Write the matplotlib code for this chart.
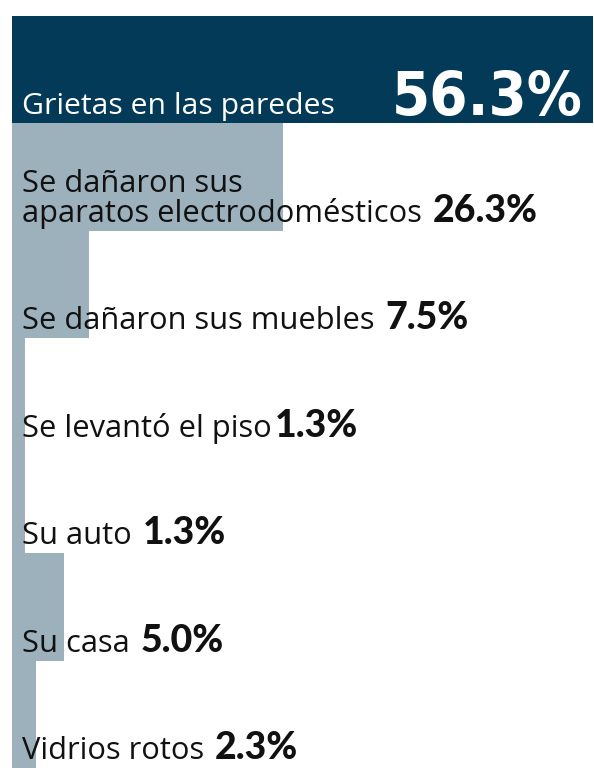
import matplotlib
matplotlib.use("Agg")
import matplotlib.pyplot as plt
from matplotlib.font_manager import fontManager, FontProperties

# datos
categorias = ["Grietas en las paredes",
              "Se dañaron sus\naparatos electrodomésticos",
              "Se dañaron sus muebles",
              "Se levantó el piso",
              "Su auto",
              "Su casa",
              "Vidrios rotos"]
valores = [56.3, 26.3, 7.5, 1.3, 1.3, 5.0, 2.3]
etiquetas_valor = ["56.3%", "26.3%", "7.5%", "1.3%", "1.3%", "5.0%", "2.3%"]

AZUL = "#033a57"
GRIS = "#9db1bd"
TEXTO = "#111111"

nombres = {f.name for f in fontManager.ttflist}
fuente_label = "Open Sans" if "Open Sans" in nombres else "DejaVu Sans"
fuente_valor = "Lato" if "Lato" in nombres else "DejaVu Sans"

# busca una fuente estrecha en negrita para el numero grande
fuente_grande = None
for f in fontManager.ttflist:
    estrecha = ("Condensed" in f.name or "Narrow" in f.name
                or str(f.stretch) in ("condensed", "semi-condensed", "extra-condensed", "ultra-condensed")
                or (isinstance(f.stretch, int) and f.stretch < 500))
    peso = f.weight if isinstance(f.weight, int) else (700 if "bold" in str(f.weight) else 400)
    if estrecha and peso >= 600:
        fuente_grande = FontProperties(fname=f.fname)
        break
if fuente_grande is None:
    fuente_grande = FontProperties(family="DejaVu Sans", weight="bold")

W, H = 594, 770
fig = plt.figure(figsize=(W / 100, H / 100), dpi=100)
fig.patch.set_facecolor("white")
ax = fig.add_axes([12 / W, (H - 768) / H, (593 - 12) / W, (768 - 16) / H])

colores = [AZUL] + [GRIS] * (len(valores) - 1)
ys = list(range(len(valores)))
ax.barh(ys, valores, height=1.0, color=colores, edgecolor="none")
ax.set_xlim(0, max(valores))
ax.set_ylim(len(valores) - 0.5, -0.5)
ax.axis("off")

fig.canvas.draw()
renderer = fig.canvas.get_renderer()

alto_barra = (768 - 16) / len(valores)

for i, (cat, val) in enumerate(zip(categorias, etiquetas_valor)):
    # linea base a 9 px del borde inferior de la barra
    y_base_px = H - (16 + alto_barra * (i + 1) - 9)
    color = "white" if i == 0 else TEXTO
    t = fig.text(22 / W, y_base_px / H, cat, fontsize=22.2 if i else 21.7,
                 family=fuente_label, color=color, ha="left", va="baseline",
                 linespacing=0.95)
    if i == 0:
        fp = fuente_grande.copy()
        fp.set_size(44)
        g = fig.text(583 / W, (H - 115) / H, val, fontproperties=fp, color="white",
                     ha="right", va="baseline")
        continue
    bb = t.get_window_extent(renderer)
    gap = 3 if i == 3 else 11
    fig.text((bb.x1 + gap) / W, y_base_px / H, val, fontsize=27, family=fuente_valor,
             fontweight="black", color=TEXTO, ha="left", va="baseline")

fig.savefig("out.png", dpi=100, facecolor="white")
